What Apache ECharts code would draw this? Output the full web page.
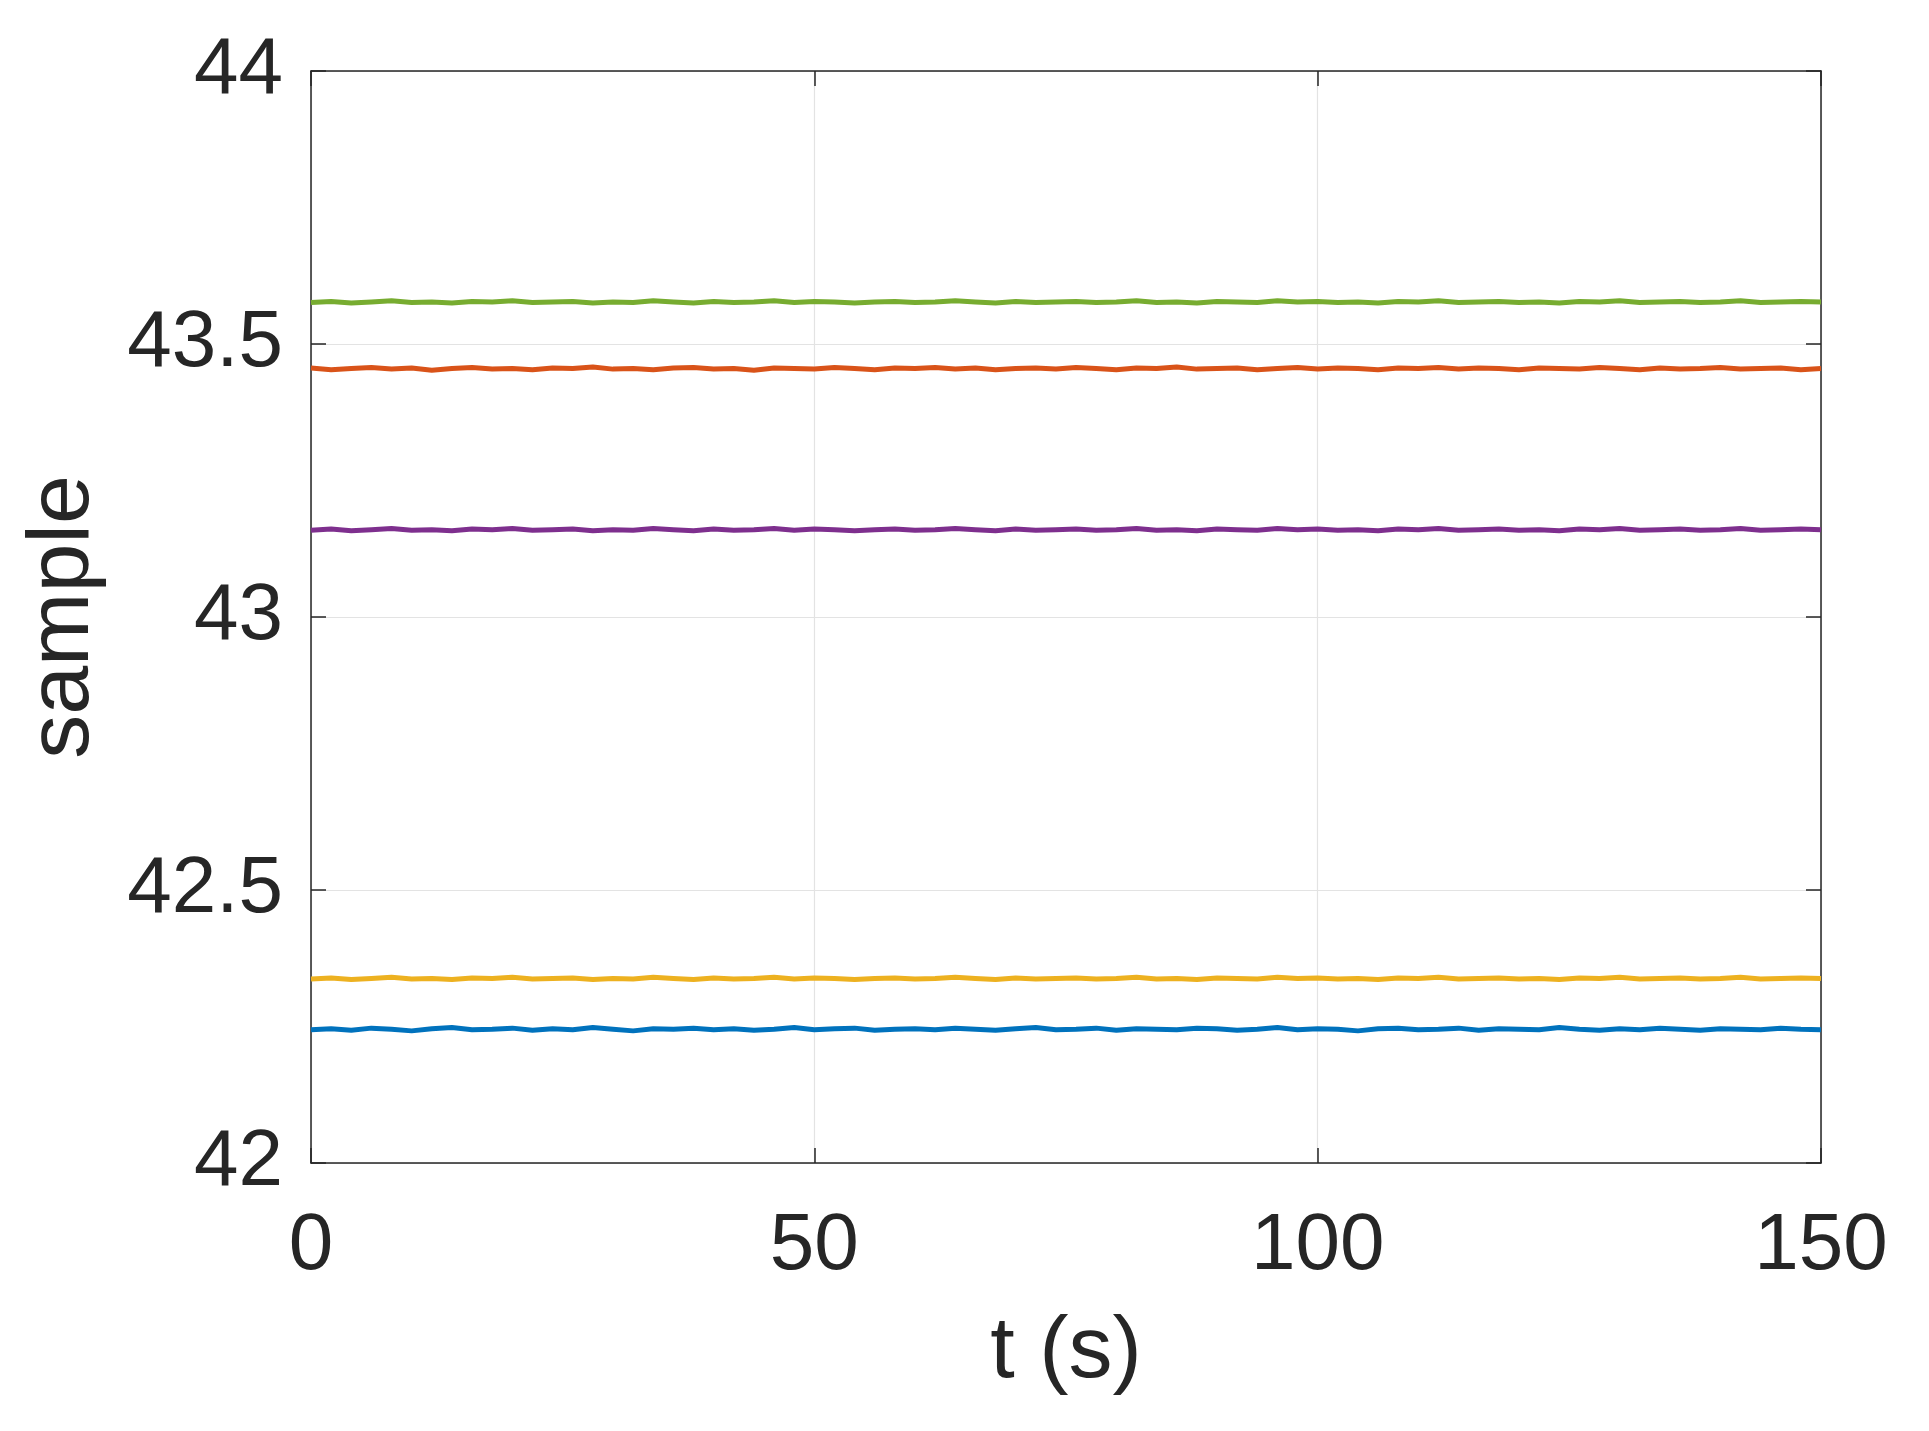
<!DOCTYPE html>
<html>
<head>
<meta charset="utf-8">
<script src="https://cdn.jsdelivr.net/npm/echarts@6/dist/echarts.min.js"></script>
<style>html,body{margin:0;padding:0;background:#fff;}#c{width:1929px;height:1431px;}</style>
</head>
<body>
<div id="c"></div>
<script>
const t = [0,2,4,6,8,10,12,14,16,18,20,22,24,26,28,30,32,34,36,38,40,42,44,46,48,50,52,54,56,58,60,62,64,66,68,70,72,74,76,78,80,82,84,86,88,90,92,94,96,98,100,102,104,106,108,110,112,114,116,118,120,122,124,126,128,130,132,134,136,138,140,142,144,146,148,150];
const seriesNames = ['s1','s2','s3','s4','s5'];
const colors = ['#0072BD','#D95319','#EDB120','#7E2F8E','#77AC30'];
const xTicks = [0,50,100,150];
const yTicks = [42,42.5,43,43.5,44];
const blue = [42.244,42.246,42.243,42.247,42.245,42.242,42.246,42.248,42.244,42.245,
42.247,42.243,42.246,42.244,42.248,42.245,42.242,42.246,42.245,42.247,
42.244,42.246,42.243,42.245,42.248,42.244,42.246,42.247,42.243,42.245,
42.246,42.244,42.247,42.245,42.243,42.246,42.248,42.244,42.245,42.247,
42.243,42.246,42.245,42.244,42.247,42.246,42.243,42.245,42.248,42.244,
42.246,42.245,42.242,42.246,42.247,42.244,42.245,42.247,42.243,42.246,
42.245,42.244,42.248,42.245,42.243,42.246,42.244,42.247,42.245,42.243,
42.246,42.245,42.244,42.247,42.245,42.244];
const orange = [43.456,43.453,43.455,43.457,43.454,43.456,43.452,43.455,43.457,43.454,
43.455,43.453,43.456,43.455,43.458,43.454,43.455,43.453,43.456,43.457,
43.454,43.455,43.452,43.456,43.455,43.454,43.457,43.455,43.453,43.456,
43.455,43.457,43.454,43.456,43.453,43.455,43.456,43.454,43.457,43.455,
43.453,43.456,43.455,43.458,43.454,43.455,43.456,43.453,43.455,43.457,
43.454,43.456,43.455,43.453,43.456,43.455,43.457,43.454,43.456,43.455,
43.453,43.456,43.455,43.454,43.457,43.455,43.453,43.456,43.454,43.455,
43.457,43.454,43.455,43.456,43.453,43.455];
const yellow = [42.337,42.339,42.336,42.338,42.340,42.337,42.338,42.336,42.339,42.338,
42.340,42.337,42.338,42.339,42.336,42.338,42.337,42.340,42.338,42.336,
42.339,42.337,42.338,42.340,42.337,42.339,42.338,42.336,42.338,42.339,
42.337,42.338,42.340,42.338,42.336,42.339,42.337,42.338,42.339,42.337,
42.338,42.340,42.337,42.338,42.336,42.339,42.338,42.337,42.340,42.338,
42.339,42.337,42.338,42.336,42.339,42.338,42.340,42.337,42.338,42.339,
42.337,42.338,42.336,42.339,42.338,42.340,42.337,42.338,42.339,42.337,
42.338,42.340,42.337,42.338,42.339,42.338];
const purple = [43.159,43.161,43.158,43.160,43.162,43.159,43.160,43.158,43.161,43.160,
43.162,43.159,43.160,43.161,43.158,43.160,43.159,43.162,43.160,43.158,
43.161,43.159,43.160,43.162,43.159,43.161,43.160,43.158,43.160,43.161,
43.159,43.160,43.162,43.160,43.158,43.161,43.159,43.160,43.161,43.159,
43.160,43.162,43.159,43.160,43.158,43.161,43.160,43.159,43.162,43.160,
43.161,43.159,43.160,43.158,43.161,43.160,43.162,43.159,43.160,43.161,
43.159,43.160,43.158,43.161,43.160,43.162,43.159,43.160,43.161,43.159,
43.160,43.162,43.159,43.160,43.161,43.160];
const green = [43.576,43.578,43.575,43.577,43.579,43.576,43.577,43.575,43.578,43.577,
43.579,43.576,43.577,43.578,43.575,43.577,43.576,43.579,43.577,43.575,
43.578,43.576,43.577,43.579,43.576,43.578,43.577,43.575,43.577,43.578,
43.576,43.577,43.579,43.577,43.575,43.578,43.576,43.577,43.578,43.576,
43.577,43.579,43.576,43.577,43.575,43.578,43.577,43.576,43.579,43.577,
43.578,43.576,43.577,43.575,43.578,43.577,43.579,43.576,43.577,43.578,
43.576,43.577,43.575,43.578,43.577,43.579,43.576,43.577,43.578,43.576,
43.577,43.579,43.576,43.577,43.578,43.577];
const allValues = [blue, orange, yellow, purple, green];

const font = 'Liberation Sans, Arial, Helvetica, sans-serif';
const axisColor = '#262626';
const chart = echarts.init(document.getElementById('c'), null, {renderer:'canvas'});
const hidden = {show:false};
const baseX = {type:'value', min:xTicks[0], max:xTicks[xTicks.length-1], interval:50};
const baseY = {type:'value', min:yTicks[0], max:yTicks[yTicks.length-1], interval:0.5};
chart.setOption({
  animation:false,
  backgroundColor:'#ffffff',
  grid:{left:311, top:71, right:108, bottom:268, containLabel:false},
  xAxis:[
    Object.assign({}, baseX, {
      position:'bottom',
      name:'t (s)', nameLocation:'middle', nameGap:146,
      nameTextStyle:{fontFamily:font, fontSize:88, color:axisColor},
      axisLine:{show:true, onZero:false, lineStyle:{color:axisColor, width:1.5}},
      axisTick:{show:true, inside:true, length:15, lineStyle:{color:axisColor, width:1.5}},
      axisLabel:{fontFamily:font, fontSize:80, color:axisColor, margin:44},
      splitLine:{show:true, lineStyle:{color:'#e3e3e3', width:1.2}}
    }),
    Object.assign({}, baseX, {
      position:'top',
      axisLine:{show:true, onZero:false, lineStyle:{color:axisColor, width:1.5}},
      axisTick:{show:true, inside:true, length:15, lineStyle:{color:axisColor, width:1.5}},
      axisLabel:hidden, splitLine:hidden
    })
  ],
  yAxis:[
    Object.assign({}, baseY, {
      position:'left',
      name:'sample', nameLocation:'middle', nameGap:203,
      nameTextStyle:{fontFamily:font, fontSize:88, color:axisColor},
      axisLine:{show:true, onZero:false, lineStyle:{color:axisColor, width:1.5}},
      axisTick:{show:true, inside:true, length:15, lineStyle:{color:axisColor, width:1.5}},
      axisLabel:{fontFamily:font, fontSize:80, color:axisColor, margin:28, padding:[12,0,0,0]},
      splitLine:{show:true, lineStyle:{color:'#e3e3e3', width:1.2}}
    }),
    Object.assign({}, baseY, {
      position:'right',
      axisLine:{show:true, onZero:false, lineStyle:{color:axisColor, width:1.5}},
      axisTick:{show:true, inside:true, length:15, lineStyle:{color:axisColor, width:1.5}},
      axisLabel:hidden, splitLine:hidden
    })
  ],
  series: allValues.map((vals, i) => ({
    name: seriesNames[i],
    type:'line',
    xAxisIndex:0, yAxisIndex:0,
    showSymbol:false,
    symbol:'none',
    data: t.map((x, j) => [x, vals[j]]),
    lineStyle:{color:colors[i], width:5},
    itemStyle:{color:colors[i]},
    z:3
  }))
});
</script>
</body>
</html>
